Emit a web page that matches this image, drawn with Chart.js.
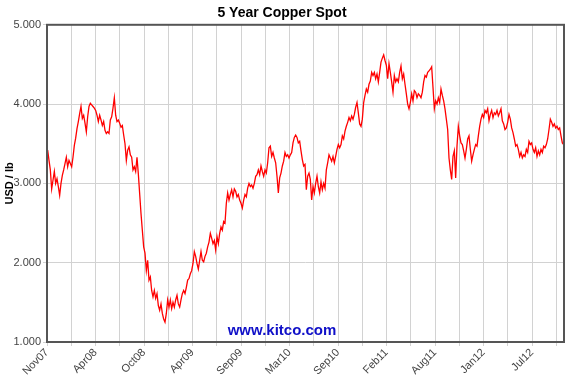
<!DOCTYPE html>
<html>
<head>
<meta charset="utf-8">
<title>5 Year Copper Spot</title>
<script src="https://cdn.jsdelivr.net/npm/chart.js@4.4.1/dist/chart.umd.min.js"></script>
<style>
    html, body { margin: 0; padding: 0; background: #fff; }
    #wrap { width: 570px; height: 375px; }
</style>
</head>
<body>
<div id="wrap"><canvas id="copperChart" width="570" height="375"></canvas></div>
<script>
// x axis labels (one on every second gridline)
const tickLabels = ['Nov07', 'Apr08', 'Oct08', 'Apr09', 'Sep09', 'Mar10', 'Sep10', 'Feb11', 'Aug11', 'Jan12', 'Jul12'];

// y axis ticks
const yTicks = [1, 2, 3, 4, 5];

// copper spot price, USD / lb, read left to right off the chart
const spotA = [
    3.42, 3.29, 3.17, 2.93, 3.04, 3.15, 3.00, 3.06, 2.96, 2.85,
    3.00, 3.10, 3.17, 3.25, 3.33, 3.21, 3.29, 3.25, 3.21, 3.33,
    3.48, 3.57, 3.69, 3.78, 3.88, 3.97, 3.82, 3.86, 3.76, 3.65,
    3.84, 3.97, 4.01, 3.99, 3.97, 3.95, 3.92, 3.86, 3.78, 3.86,
    3.80, 3.73, 3.78, 3.67, 3.63, 3.65, 3.63, 3.80, 3.84, 3.95,
    4.08, 3.86, 3.78, 3.80, 3.76, 3.71, 3.73, 3.61, 3.50, 3.29,
    3.42, 3.46, 3.36, 3.33, 3.17, 3.21
];
const spotB = [
    3.15, 3.33, 3.12, 2.87, 2.62, 2.41, 2.20, 2.12, 1.90, 2.03,
    1.78, 1.82, 1.65, 1.57, 1.65, 1.55, 1.61, 1.46, 1.40, 1.48,
    1.36, 1.29, 1.25, 1.36, 1.53, 1.44, 1.53, 1.42, 1.50, 1.44,
    1.53, 1.59, 1.48, 1.44, 1.53, 1.61, 1.65, 1.61, 1.69, 1.78,
    1.80, 1.86, 1.90, 1.99, 2.14, 2.08, 1.99, 1.92, 2.03, 2.14,
    2.03, 2.01, 2.08, 2.12, 2.20, 2.26, 2.37, 2.31, 2.24, 2.28,
    2.16, 2.33, 2.24, 2.37, 2.45
];
const spotC = [
    2.41, 2.52, 2.50, 2.75, 2.88, 2.79, 2.86, 2.92, 2.83, 2.93,
    2.90, 2.83, 2.86, 2.79, 2.75, 2.69, 2.79, 2.86, 2.83, 2.94,
    3.00, 2.96, 2.98, 2.94, 3.00, 3.09, 3.11, 3.17, 3.11, 3.22,
    3.15, 3.09, 3.17, 3.13, 3.26, 3.45, 3.47, 3.34, 3.39, 3.32,
    3.26, 3.09, 2.88, 3.07, 3.13, 3.22, 3.28, 3.39, 3.34, 3.36,
    3.32, 3.36, 3.39, 3.51, 3.58, 3.61, 3.58, 3.51, 3.53, 3.41,
    3.30, 3.22, 3.24, 2.92, 3.09, 3.13
];
const spotD = [
    3.05, 2.79, 2.96, 2.88, 3.00, 3.09, 2.96, 2.88, 3.02, 2.92,
    3.00, 2.94, 3.17, 3.26, 3.36, 3.32, 3.28, 3.34, 3.26, 3.34,
    3.43, 3.49, 3.45, 3.49, 3.60, 3.56, 3.66, 3.72, 3.77, 3.83,
    3.79, 3.85, 3.81, 3.87, 3.96, 4.02, 3.89, 3.75, 3.72, 3.81,
    4.02, 4.11, 4.19, 4.15, 4.25, 4.29, 4.40, 4.36, 4.40, 4.32,
    4.38, 4.28, 4.40, 4.53, 4.58, 4.62, 4.55, 4.49, 4.32, 4.51,
    4.40, 4.28, 4.15, 4.36, 4.28, 4.32
];
const spotE = [
    4.28, 4.40, 4.48, 4.32, 4.38, 4.25, 4.13, 4.00, 3.94, 4.02,
    4.13, 4.04, 4.17, 4.15, 4.08, 4.13, 4.11, 4.08, 4.15, 4.28,
    4.36, 4.34, 4.40, 4.42, 4.44, 4.47, 4.21, 3.94, 4.04, 4.00,
    4.08, 4.02, 4.19, 4.11, 4.04, 3.94, 3.81, 3.68, 3.32, 3.17,
    3.05, 3.34, 3.41, 3.07, 3.47, 3.72, 3.60, 3.51, 3.49, 3.41,
    3.32, 3.43, 3.56, 3.60, 3.43, 3.28, 3.36, 3.43, 3.49, 3.47,
    3.60, 3.72, 3.81, 3.87, 3.83, 3.92
];
const spotF = [
    3.89, 3.94, 3.79, 3.87, 3.92, 3.83, 3.89, 3.87, 3.92, 3.85,
    3.89, 3.94, 3.79, 3.75, 3.68, 3.70, 3.77, 3.87, 3.81, 3.70,
    3.64, 3.56, 3.47, 3.49, 3.43, 3.34, 3.39, 3.32, 3.36, 3.34,
    3.43, 3.39, 3.53, 3.49, 3.51, 3.43, 3.39, 3.45, 3.34, 3.41,
    3.36, 3.43, 3.39, 3.47, 3.45, 3.49, 3.56, 3.68, 3.81, 3.77,
    3.72, 3.75, 3.70, 3.72, 3.68, 3.70, 3.60, 3.51, 3.49
];

const spot = [].concat(spotA, spotB, spotC, spotD, spotE, spotF);

const FONT = '"Liberation Sans", Arial, sans-serif';
const X_MIN = -0.5;
const X_MAX = 387.25;
const GRID_STEP = 18.1875;   // one gridline per ~2.75 months

// frame around the plot and the kitco watermark
const framePlugin = {
    id: 'frame',
    afterDatasetsDraw(chart) {
        const { ctx, chartArea: a } = chart;
        ctx.save();
        ctx.font = 'bold 15px ' + FONT;
        ctx.fillStyle = '#1010c8';
        ctx.textAlign = 'center';
        ctx.textBaseline = 'middle';
        ctx.fillText('www.kitco.com', chart.width / 2 - 3, a.bottom - 11);

        ctx.strokeStyle = '#555';
        ctx.lineWidth = 2;
        ctx.strokeRect(a.left, a.top, a.right - a.left, a.bottom - a.top);
        ctx.restore();
    }
};

function buildXTicks(scale) {
    const ticks = [];
    for (let k = 0; X_MIN + k * GRID_STEP <= X_MAX; k++) {
        ticks.push({ value: X_MIN + k * GRID_STEP });
    }
    scale.ticks = ticks;
}

function xLabel(value, index) {
    return index % 2 === 0 ? (tickLabels[index / 2] || '') : '';
}

document.addEventListener('DOMContentLoaded', function() {
    const ctx = document.getElementById('copperChart').getContext('2d');

    new Chart(ctx, {
        type: 'line',
        data: {
            datasets: [{
                label: 'Copper',
                data: spot.map((v, i) => ({ x: i, y: v })),
                borderColor: '#ff0000',
                borderWidth: 1.3,
                pointRadius: 0,
                tension: 0,
                fill: false
            }]
        },
        options: {
            responsive: false,
            animation: false,
            layout: { padding: { left: 0, right: 6, top: 0, bottom: 0 } },
            plugins: {
                legend: { display: false },
                tooltip: { enabled: false },
                title: {
                    display: true,
                    text: '5 Year Copper Spot',
                    color: '#000',
                    font: { family: FONT, size: 14, weight: 'bold' },
                    padding: { top: 5, bottom: 3 }
                }
            },
            scales: {
                x: {
                    type: 'linear',
                    min: X_MIN,
                    max: X_MAX,
                    afterBuildTicks: buildXTicks,
                    afterFit: function(scale) { scale.height = 33; },
                    grid: { color: '#d2d2d2', lineWidth: 1, tickLength: 4 },
                    border: { display: false },
                    ticks: {
                        autoSkip: false,
                        maxRotation: 45,
                        minRotation: 45,
                        padding: 0,
                        color: '#444',
                        font: { family: FONT, size: 11 },
                        callback: xLabel
                    }
                },
                y: {
                    min: 1,
                    max: 5,
                    afterBuildTicks: function(scale) {
                        scale.ticks = yTicks.map(v => ({ value: v }));
                    },
                    afterFit: function(scale) { scale.width = 47; },
                    grid: { color: '#d2d2d2', lineWidth: 1, tickLength: 4 },
                    border: { display: false },
                    title: {
                        display: true,
                        text: 'USD / lb',
                        color: '#000',
                        font: { family: FONT, size: 11, weight: 'bold' },
                        padding: { top: 3, bottom: 0 }
                    },
                    ticks: {
                        padding: 2,
                        color: '#444',
                        font: { family: FONT, size: 11 },
                        callback: function(value) { return value.toFixed(3); }
                    }
                }
            }
        },
        plugins: [framePlugin]
    });
});
</script>
</body>
</html>
